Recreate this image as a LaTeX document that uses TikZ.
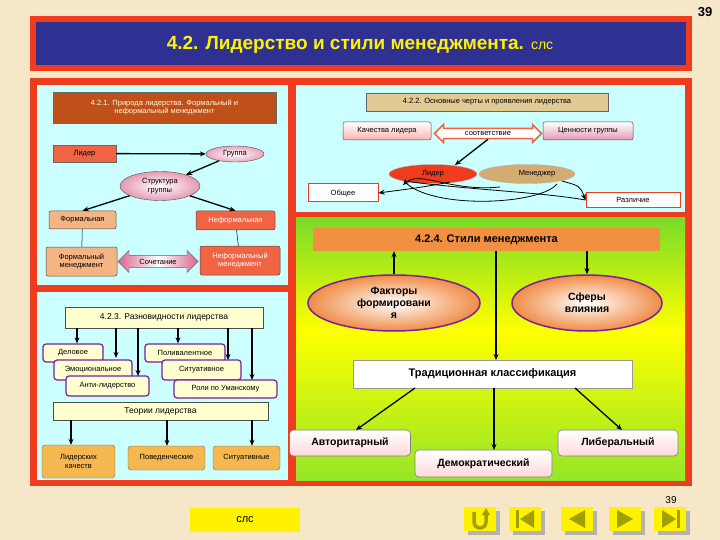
\documentclass[tikz,border=0pt]{standalone}
\usepackage{fontspec}
\setmainfont{Liberation Sans}
\usetikzlibrary{shapes.geometric,shapes.arrows,arrows.meta,shadows}
\definecolor{bg}{HTML}{F6E7C9}
\definecolor{fr}{HTML}{F03C1E}
\definecolor{cy}{HTML}{CCFFFF}
\definecolor{navy}{HTML}{2E3192}
\definecolor{brn}{HTML}{C0501A}
\definecolor{sal}{HTML}{F06444}
\definecolor{pch}{HTML}{F5B484}
\definecolor{tan}{HTML}{E2CA94}
\definecolor{lyel}{HTML}{FFFFD0}
\definecolor{purp}{HTML}{7A1FA0}
\definecolor{org}{HTML}{F5B850}
\definecolor{oliv}{HTML}{A0A000}
\tikzset{
 x=1pt,y=-1pt,
 t/.style={font=\fontsize{7.5}{8.5}\selectfont,align=center,inner sep=1pt},
 bx/.style={draw=black!70,line width=0.5pt,rounded corners=2pt,t},
 ar/.style={-{Stealth[length=6pt,width=5pt]},line width=1.3pt},
 vt/.style={draw=purp,line width=1.2pt,rounded corners=3pt,fill=lyel,t},
 ob/.style={draw=black!60,rounded corners=3pt,fill=org,t},
 st/.style={draw=black!50,line width=0.6pt,rounded corners=4pt,top color=white,bottom color=pink!60,inner sep=2pt,font=\bfseries\fontsize{10.5}{12}\selectfont},
 nav/.style={fill=yellow,minimum width=32pt,minimum height=24pt,inner sep=0pt,drop shadow={shadow xshift=4pt,shadow yshift=-4pt,fill=gray!60,opacity=1}},
}
\begin{document}
\begin{tikzpicture}
\useasboundingbox (0,0) rectangle (720,540);
\fill[bg] (0,0) rectangle (720,540);
% title
\fill[fr] (30,16) rectangle (692,71);
\fill[navy] (36,22) rectangle (686,65);
\node[text=yellow,font=\bfseries\fontsize{19}{21}\selectfont] (title) at (360,45) {4.2. Лидерство и стили менеджмента. {\mdseries\fontsize{14}{16}\selectfont слс}};
\node[font=\bfseries\fontsize{13}{15}\selectfont] (pg) at (705,12) {39};
% main frame
\fill[fr] (30,78) rectangle (692,486);
\fill[cy] (37,85) rectangle (288,285);
\fill[cy] (296,85) rectangle (685,212);
\fill[cy] (37,292) rectangle (288,480);
\shade[top color={rgb,255:red,120;green,220;blue,40},bottom color=yellow] (296,218) rectangle (685,330);
\shade[top color=yellow,bottom color={rgb,255:red,150;green,230;blue,40}] (296,330) rectangle (685,480);

% ---- 4.2.1
\node[draw=black!60,fill=brn,text=white!90!yellow,minimum width=223pt,minimum height=31pt,t] (h1) at (164.5,107.5) {4.2.1. Природа лидерства. Формальный и\\неформальный менеджмент};
\node[draw=black!60,fill=sal,minimum width=63pt,minimum height=17pt,t] (lid) at (84.5,153.5) {Лидер};
\node[ellipse,draw=black!70,inner color=white,outer color=purple!35,minimum width=58pt,minimum height=16pt,inner sep=0pt,t] (grp) at (235,154) {Группа};
\node[ellipse,draw=black!70,inner color=white,outer color=purple!40,minimum width=80pt,minimum height=29pt,inner sep=0pt,t] (str) at (160,186) {Структура\\группы};
\node[bx,fill=pch,minimum width=67pt,minimum height=18pt] (f) at (82.5,220) {Формальная};
\node[bx,fill=sal,text=white,minimum width=79pt,minimum height=19pt] (nf) at (235.5,220.5) {Неформальная};
\node[bx,fill=pch,minimum width=71pt,minimum height=29pt] (fm) at (81.5,261.5) {Формальный\\менеджмент};
\node[bx,fill=sal,text=white,minimum width=80pt,minimum height=29pt] (nfm) at (240,260.5) {Неформальный\\менеджмент};
\node[double arrow,double arrow head extend=3pt,draw=black!60,left color=purple!60,right color=purple!60,middle color=white,minimum width=22pt,minimum height=80pt,inner sep=1pt,font=\fontsize{7.5}{8.5}\selectfont] (soch) at (158,261.5) {Сочетание};
\draw[ar] (lid) -- (grp);
\draw[ar] (grp) -- (str);
\draw[ar] (str) -- (f.north);
\draw[ar] (str) -- (nf.north);
\draw[line width=0.5pt] (f) -- (fm);
\draw[line width=0.5pt] (nf) -- (nfm);

% ---- 4.2.2
\node[draw=black!60,fill=tan,minimum width=242pt,minimum height=18pt,t] (h2) at (487,102) {4.2.2. Основные черты и проявления лидерства};
\node[bx,top color=white,bottom color=red!30,minimum width=88pt,minimum height=18pt] (kach) at (387,131) {Качества лидера};
\node[bx,top color=white,bottom color=purple!40,minimum width=90pt,minimum height=18pt] (cen) at (588,131) {Ценности группы};
\node[double arrow,double arrow head extend=3pt,draw=sal,line width=1.5pt,fill=white,minimum width=18pt,minimum height=107pt,inner sep=1pt,font=\fontsize{7.5}{8.5}\selectfont] (sootv) at (488,133.5) {\raisebox{-2pt}{соответствие}};
\node[ellipse,fill=tan!60!brown,draw=black!30,minimum width=96pt,minimum height=19pt,inner sep=0pt] (men) at (527,174) {};
\node[ellipse,fill=fr,draw=black!30,minimum width=88pt,minimum height=19pt,inner sep=0pt] (lidE) at (433,174) {};
\begin{scope}
\clip (527,174) ellipse (48pt and 9.5pt);
\fill[brn!80!red] (433,174) ellipse (44pt and 9.5pt);
\end{scope}
\node[t] (lidT) at (433,174) {Лидер};
\node[t] (menT) at (537,174) {Менеджер};
\node[draw=fr,line width=1pt,fill=white,minimum width=70pt,minimum height=18pt,t] (ob) at (343,193) {Общее};
\node[draw=fr,line width=1pt,fill=white,minimum width=94pt,minimum height=15pt,t] (raz) at (633,200) {Различие};
\draw[ar] (sootv.south) -- (455,165);
\draw[ar,line width=0.8pt] (450,182) .. controls (420,188) and (400,190) .. (ob.east);
\draw[ar,line width=0.8pt] (562,181) .. controls (580,186) .. (raz.west);
\draw[line width=0.8pt] (404,181) .. controls (430,210) and (540,205) .. (557,184);
\draw[line width=0.8pt] (404,181) .. controls (470,190) and (540,192) .. (raz.west);
\draw[ar,line width=0.8pt] (500,187) .. controls (450,192) and (420,170) .. (403,185);

% ---- 4.2.3
\node[draw=black!70,line width=0.8pt,fill=lyel,minimum width=198pt,minimum height=21pt,font=\fontsize{8.5}{10}\selectfont] (h3) at (164,317.5) {4.2.3. Разновидности лидерства};
\node[vt,minimum width=60pt,minimum height=18pt] (del) at (73,353) {Деловое};
\node[vt,minimum width=78pt,minimum height=20pt] (emo) at (93,370) {\raisebox{-3pt}{Эмоциональное}};
\node[vt,minimum width=83pt,minimum height=20pt] (anti) at (107.5,386) {Анти-лидерство};
\node[vt,minimum width=80pt,minimum height=18pt] (pol) at (185,353) {Поливалентное};
\node[vt,minimum width=79pt,minimum height=20pt] (sit) at (201.5,370) {Ситуативное};
\node[vt,minimum width=103pt,minimum height=18pt] (uman) at (225.5,389) {Роли по Уманскому};
\node[draw=black!70,line width=0.8pt,fill=lyel,minimum width=215pt,minimum height=18pt,font=\fontsize{8.5}{10}\selectfont] (teor) at (160.5,411) {Теории лидерства};
\node[ob,minimum width=73pt,minimum height=33pt] (lk) at (78.5,461.5) {Лидерских\\качеств};
\node[ob,minimum width=77pt,minimum height=24pt] (pov) at (166.5,458) {Поведенческие};
\node[ob,minimum width=67pt,minimum height=24pt] (sitv) at (246.5,458) {Ситуативные};
\draw[ar] (77,328) -- (del.north -| 77,0);
\draw[ar] (116,328) -- (116,358);
\draw[ar] (138,328) -- (138,376);
\draw[ar] (178,328) -- (pol.north -| 178,0);
\draw[ar] (228,328) -- (228,360);
\draw[ar] (252,328) -- (252,380);
\draw[ar] (71,420) -- (lk.north -| 71,0);
\draw[ar] (167,420) -- (pov.north -| 167,0);
\draw[ar] (252,420) -- (sitv.north -| 252,0);

% ---- 4.2.4
\node[fill={rgb,255:red,240;green,144;blue,64},minimum width=347pt,minimum height=23pt,inner sep=0pt,font=\bfseries\fontsize{11}{13}\selectfont] (h4) at (486.5,239.5) {4.2.4. Стили менеджмента};
\node[ellipse,draw=purp,line width=1.5pt,inner color=white,outer color={rgb,255:red,240;green,140;blue,70},minimum width=172pt,minimum height=56pt,inner sep=0pt,align=center,font=\bfseries\fontsize{10.5}{12}\selectfont] (fak) at (394,303) {Факторы\\формировани\\я};
\node[ellipse,draw=purp,line width=1.5pt,inner color=white,outer color={rgb,255:red,240;green,140;blue,70},minimum width=150pt,minimum height=56pt,inner sep=0pt,align=center,font=\bfseries\fontsize{10.5}{12}\selectfont] (sf) at (587,303) {Сферы\\влияния};
\node[draw=black!40,fill=white,minimum width=279pt,minimum height=28pt,inner sep=0pt,font=\bfseries\fontsize{11}{13}\selectfont] (trad) at (492.5,374) {Традиционная классификация};
\node[st,minimum width=121pt,minimum height=26pt] (avt) at (350,443) {Авторитарный};
\node[st,minimum width=137pt,minimum height=27pt] (dem) at (483.5,463.5) {Демократический};
\node[st,minimum width=120pt,minimum height=26pt] (lib) at (618,443) {Либеральный};
\draw[ar] (fak.north) -- (fak.north |- h4.south);
\draw[ar] (h4.south -| sf.north) -- (sf.north);
\draw[ar] (496,251) -- (496,360);
\draw[ar] (415,388) -- (356,430);
\draw[ar] (494,388) -- (494,450);
\draw[ar] (575,388) -- (622,430);

% ---- bottom
\node[fill=yellow,minimum width=110pt,minimum height=24pt,inner sep=0pt,font=\fontsize{11}{13}\selectfont] (sls) at (245,520) {слс};
\node[nav] (b1) at (480,519) {};
\node[nav] (b2) at (525,519) {};
\node[nav] (b3) at (577,519) {};
\node[nav] (b4) at (625,519) {};
\node[nav] (b5) at (670,519) {};
\node[font=\fontsize{10}{12}\selectfont] (pg2) at (671,500) {39};
% icons
\draw[oliv,line width=3.5pt] (474,512) -- (474,522) arc (180:360:6pt) -- (486,514);
\fill[oliv] (482,515) -- (486,508) -- (490,515) -- cycle;
\fill[oliv] (516,510) rectangle (519,528);
\fill[oliv] (534,510) -- (520,519) -- (534,528) -- cycle;
\fill[oliv] (585,510) -- (569,519) -- (585,528) -- cycle;
\fill[oliv] (617,510) -- (633,519) -- (617,528) -- cycle;
\fill[oliv] (662,510) -- (676,519) -- (662,528) -- cycle;
\fill[oliv] (677,510) rectangle (680,528);
\end{tikzpicture}
\end{document}
